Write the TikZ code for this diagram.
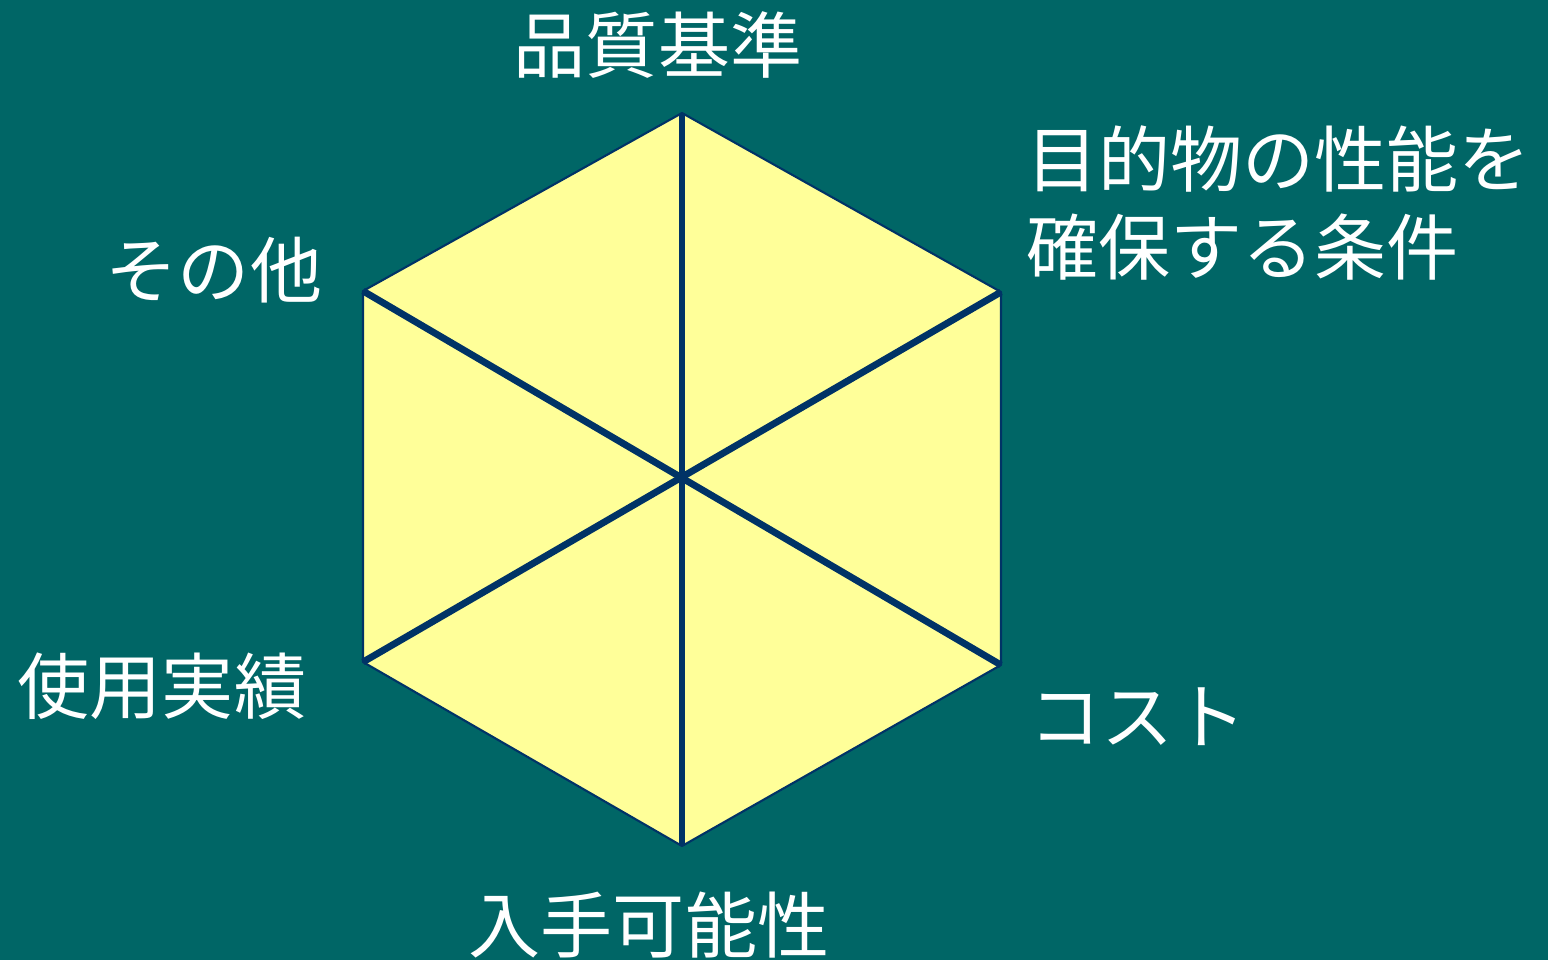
\documentclass[tikz,border=0pt]{standalone}
\usepackage{fontspec}
\setmainfont{Noto Sans CJK JP}
\definecolor{boardgreen}{RGB}{0,102,102}
\definecolor{paleyellow}{RGB}{255,255,153}
\definecolor{inknavy}{RGB}{0,51,102}
\begin{document}
\begin{tikzpicture}[x=0.02cm,y=-0.02cm]
\tikzstyle{spoke} = [line width=3.9pt,inknavy]
\tikzstyle{label} = [white,inner sep=0pt,font=\fontsize{41}{50.5}\selectfont]

% background and page size
\fill[boardgreen] (0,0) rectangle (1548,960);
\useasboundingbox (0,0) rectangle (1548,960);

% corners of the hexagon
\coordinate (top) at (682,113);
\coordinate (ur) at (1001,292);
\coordinate (lr) at (1001,665);
\coordinate (bot) at (682,846);
\coordinate (ll) at (363,662);
\coordinate (ul) at (363,291);
\coordinate (mid) at (682,480);

\draw[fill=paleyellow,draw=inknavy,line width=1.2pt,line join=round]
  (top)--(ur)--(lr)--(bot)--(ll)--(ul)--cycle;
\draw[spoke] (top)--(bot);
\draw[spoke] (ul)--(lr);
\draw[spoke] (ll)--(ur);

\node[label] (quality) at (658,45) {品質基準};
\node[label,anchor=west,align=left] (perform) at (1026,203) {目的物の性能を\\確保する条件};
\node[label] (other) at (214,270) {その他};
\node[label] (record) at (162,686) {使用実績};
\node[label] (cost) at (1138,717) {コスト};
\node[label] (supply) at (649,925) {入手可能性};
\end{tikzpicture}
\end{document}
